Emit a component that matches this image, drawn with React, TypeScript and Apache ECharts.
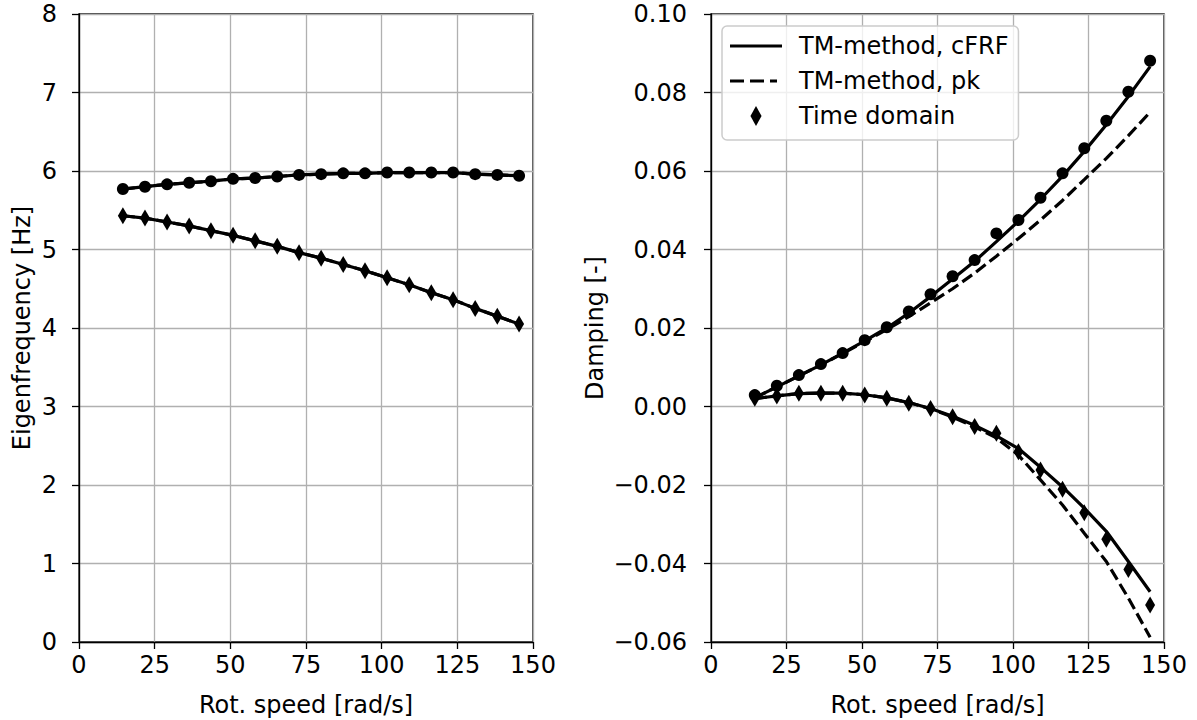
import React, { useEffect, useRef } from "react";
import * as echarts from "echarts";

// Rotational speed [rad/s]
const speed = [14.5, 21.8, 29.1, 36.4, 43.6, 50.9, 58.2, 65.5, 72.7, 80.0, 87.3, 94.5, 101.8, 109.1, 116.4, 123.6, 130.9, 138.2, 145.4];

// Left: eigenfrequency [Hz]
const freqUpper = [5.77, 5.80, 5.83, 5.85, 5.87, 5.90, 5.91, 5.93, 5.95, 5.96, 5.97, 5.97, 5.98, 5.98, 5.98, 5.98, 5.96, 5.95, 5.94];
const freqLower = [5.43, 5.40, 5.35, 5.30, 5.24, 5.18, 5.11, 5.04, 4.96, 4.89, 4.81, 4.73, 4.64, 4.55, 4.45, 4.36, 4.25, 4.15, 4.05];

// Right: damping [-]
const dampUpperTD = [0.0029, 0.0053, 0.0080, 0.0108, 0.0136, 0.0169, 0.0202, 0.0242, 0.0286, 0.0332, 0.0373, 0.0441, 0.0475, 0.0532, 0.0594, 0.0658, 0.0728, 0.0802, 0.0881];
const dampLowerTD = [0.0021, 0.0027, 0.0034, 0.0034, 0.0034, 0.0029, 0.0021, 0.0008, -0.0005, -0.0026, -0.0051, -0.0068, -0.0115, -0.0162, -0.0211, -0.0271, -0.0338, -0.0415, -0.0506];
const dampUpperCFRF = [0.0022, 0.0050, 0.0078, 0.0106, 0.0136, 0.0167, 0.0200, 0.0238, 0.0280, 0.0325, 0.0370, 0.0420, 0.0472, 0.0528, 0.0587, 0.0650, 0.0718, 0.0790, 0.0866];
const dampLowerCFRF = [0.0020, 0.0027, 0.0033, 0.0034, 0.0034, 0.0030, 0.0022, 0.0010, -0.0005, -0.0025, -0.0048, -0.0075, -0.0107, -0.0155, -0.0205, -0.0259, -0.0318, -0.0395, -0.0472];
const dampUpperPK = [0.0022, 0.0050, 0.0078, 0.0106, 0.0135, 0.0165, 0.0196, 0.0229, 0.0264, 0.0300, 0.0340, 0.0383, 0.0428, 0.0475, 0.0525, 0.0578, 0.0632, 0.0690, 0.0750];
const dampLowerPK = [0.0020, 0.0027, 0.0033, 0.0034, 0.0034, 0.0030, 0.0022, 0.0010, -0.0006, -0.0027, -0.0052, -0.0080, -0.0124, -0.0187, -0.0251, -0.0323, -0.0395, -0.0488, -0.0588];

const legendNames = ["TM-method, cFRF", "TM-method, pk", "Time domain"];
const xLabel = "Rot. speed [rad/s]";
const yLabelLeft = "Eigenfrequency [Hz]";
const yLabelRight = "Damping [-]";

const FONT = "DejaVu Sans";
const FS = 24;

const pairs = (ys: number[]) => speed.map((x, i) => [x, ys[i]]);

export default function App() {
  const ref = useRef<HTMLDivElement>(null);
  useEffect(() => {
    if (!ref.current) return;
    const chart = echarts.init(ref.current, undefined, { renderer: "svg" });
    const lw = 3.2;
    const solid = (name: string, data: number[], gi: number) => ({
      type: "line",
      name,
      xAxisIndex: gi,
      yAxisIndex: gi,
      data: pairs(data),
      symbol: "none",
      lineStyle: { color: "#000", width: lw, type: "solid" },
      itemStyle: { color: "#000" },
      z: 3,
    });
    const dashed = (name: string, data: number[], gi: number) => ({
      type: "line",
      name,
      xAxisIndex: gi,
      yAxisIndex: gi,
      data: pairs(data),
      symbol: "none",
      lineStyle: { color: "#000", width: lw, type: [12, 5] },
      itemStyle: { color: "#000" },
      z: 3,
    });
    const marks = (name: string, data: number[], gi: number, symbol: string, size: any) => ({
      type: "scatter",
      name,
      xAxisIndex: gi,
      yAxisIndex: gi,
      data: pairs(data),
      symbol,
      symbolSize: size,
      itemStyle: { color: "#000", opacity: 1 },
      z: 4,
    });
    const axisCommon = {
      axisLine: { show: true, onZero: false, lineStyle: { color: "#000", width: 1.3 } },
      axisTick: { show: true, inside: false, length: 7, lineStyle: { color: "#000", width: 1.3 } },
      splitLine: { show: true, lineStyle: { color: "#b0b0b0", width: 1.3 } },
      nameTextStyle: { fontFamily: FONT, fontSize: FS, color: "#000" },
    };
    const xAxis = (gi: number) => ({
      type: "value",
      gridIndex: gi,
      min: 0,
      max: 150,
      interval: 25,
      name: xLabel,
      nameLocation: "middle",
      nameGap: 51,
      ...axisCommon,
      axisLabel: { fontFamily: FONT, fontSize: FS, color: "#000", margin: 11 },
    });
    const fmtDamp = (v: number) => {
      if (Math.abs(v) < 1e-9) return "0.00";
      const s = v.toFixed(2);
      return s.replace("-", "\u2212");
    };
    const gridCommon = {
      show: true,
      borderColor: "#000",
      borderWidth: 1.3,
      backgroundColor: "transparent",
      containLabel: false,
      outerBoundsMode: "none",
    };
    chart.setOption({
      animation: false,
      backgroundColor: "#fff",
      grid: [
        { left: 79, top: 14, width: 454, height: 628, ...gridCommon },
        { left: 711, top: 14, width: 453, height: 628, ...gridCommon },
      ],
      xAxis: [xAxis(0), xAxis(1)],
      yAxis: [
        {
          type: "value",
          gridIndex: 0,
          min: 0,
          max: 8,
          interval: 1,
          name: yLabelLeft,
          nameLocation: "middle",
          nameGap: 45,
          ...axisCommon,
          axisLabel: { fontFamily: FONT, fontSize: FS, color: "#000", margin: 22 },
        },
        {
          type: "value",
          gridIndex: 1,
          min: -0.06,
          max: 0.1,
          interval: 0.02,
          name: yLabelRight,
          nameLocation: "middle",
          nameGap: 104,
          ...axisCommon,
          axisLabel: { fontFamily: FONT, fontSize: FS, color: "#000", margin: 24, formatter: fmtDamp },
        },
      ],
      legend: {
        show: true,
        orient: "vertical",
        left: 722,
        top: 26,
        selectedMode: false,
        data: [
          { name: legendNames[0], icon: "path://M0,0L52,0L52,3.2L0,3.2Z" },
          { name: legendNames[1], icon: "path://M0,0L14,0L14,3.2L0,3.2ZM20,0L34,0L34,3.2L20,3.2ZM40,0L47,0L47,3.2L40,3.2ZM52,1.6" },
          { name: legendNames[2], icon: "path://M5,0L10,9L5,18L0,9Z" },
        ],
        itemWidth: 52,
        itemHeight: 20,
        itemGap: 11,
        textStyle: { fontFamily: FONT, fontSize: FS, color: "#000", padding: [0, 0, 0, 12] },
        backgroundColor: "rgba(255,255,255,0.8)",
        borderColor: "#cccccc",
        borderWidth: 1.5,
        borderRadius: 5,
        padding: [8, 10, 12, 8],
      },
      series: [
        solid(legendNames[0], freqUpper, 0),
        solid(legendNames[0], freqLower, 0),
        dashed(legendNames[1], freqUpper, 0),
        dashed(legendNames[1], freqLower, 0),
        marks(legendNames[2], freqLower, 0, "diamond", [10, 17]),
        marks("Time domain, mode 2", freqUpper, 0, "circle", 12),
        solid(legendNames[0], dampUpperCFRF, 1),
        solid(legendNames[0], dampLowerCFRF, 1),
        dashed(legendNames[1], dampUpperPK, 1),
        dashed(legendNames[1], dampLowerPK, 1),
        marks(legendNames[2], dampLowerTD, 1, "diamond", [10, 17]),
        marks("Time domain, mode 2", dampUpperTD, 1, "circle", 12),
      ],
    });
    return () => chart.dispose();
  }, []);
  return (
    <div
      ref={ref}
      style={{ position: "fixed", left: 0, top: 0, width: 1197, height: 720 }}
    />
  );
}
